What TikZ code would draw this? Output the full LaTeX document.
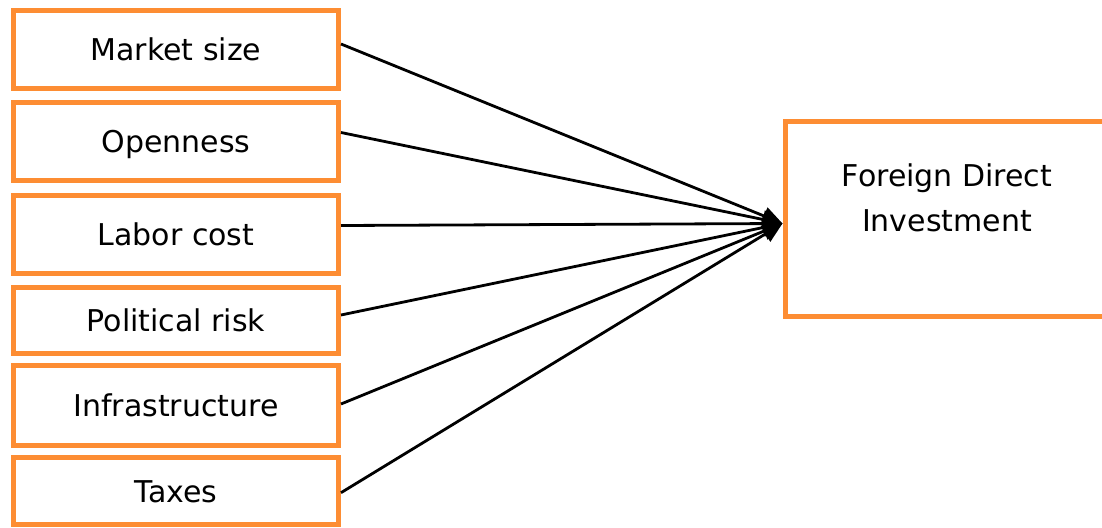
\documentclass[tikz,border=0pt]{standalone}
\usepackage{fontspec}
\setmainfont{DejaVu Sans}
\usetikzlibrary{arrows.meta,calc}
\definecolor{boxorange}{RGB}{253,141,51}
\tikzset{
  factor/.style={draw=boxorange, line width=5pt, fill=white, minimum width=325pt,
    inner sep=0pt, text height=22pt, text depth=0pt, font=\fontsize{30}{36}\selectfont},
  fdibox/.style={draw=boxorange, line width=5pt, fill=white, minimum width=324pt,
    minimum height=195pt, inner sep=0pt},
  fditext/.style={anchor=base, inner sep=0pt, font=\fontsize{30}{36}\selectfont},
  link/.style={black, line width=2.8pt, -{Triangle[length=20pt,width=18pt]}}
}
\begin{document}
\begin{tikzpicture}[x=1pt,y=-1pt]
\useasboundingbox (0,0) rectangle (1102,527);
\clip (0,0) rectangle (1102,527);
\node[factor, minimum height=78pt] (ms) at (176,49.5) {Market size};
\node[factor, minimum height=78pt] (op) at (176,141.5) {Openness};
\node[factor, minimum height=78pt] (lc) at (176,234.5) {Labor cost};
\node[factor, minimum height=66pt] (pr) at (176,320.5) {Political risk};
\node[factor, minimum height=80pt] (inf) at (176,405.5) {Infrastructure};
\node[factor, minimum height=67pt] (tx) at (176,491) {Taxes};
\node[fdibox] (fdi) at (947,219) {};
\node[fditext] (fdi1) at (947,186.5) {Foreign Direct};
\node[fditext] (fdi2) at (947,231.5) {Investment};
\coordinate (tip) at ($(fdi.north west)+(0,104.5)$);
\draw[link] ($(ms.east)+(0,-5.5)$) -- (tip);
\draw[link] ($(op.east)+(0,-9)$) -- (tip);
\draw[link] ($(lc.east)+(0,-9)$) -- (tip);
\draw[link] ($(pr.east)+(0,-5.5)$) -- (tip);
\draw[link] ($(inf.east)+(0,-1.5)$) -- (tip);
\draw[link] ($(tx.east)+(0,1.7)$) -- (tip);
\end{tikzpicture}
\end{document}
